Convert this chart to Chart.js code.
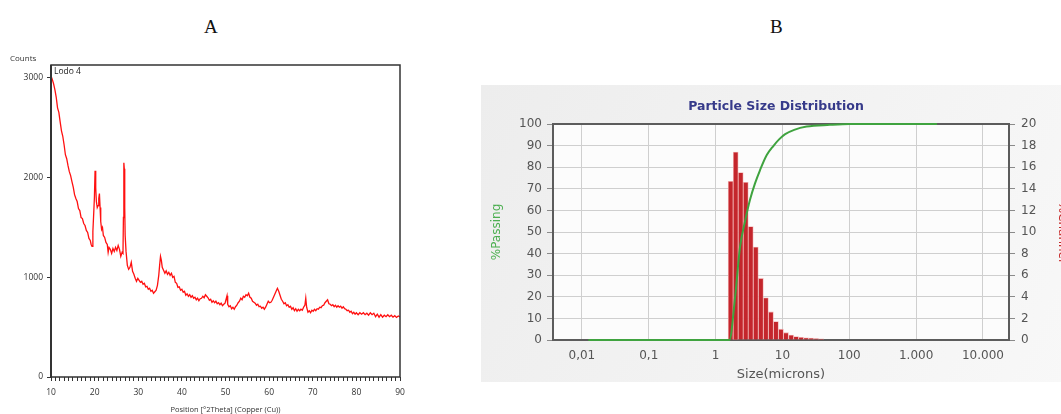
<!DOCTYPE html>
<html>
<head>
<meta charset="utf-8">
<script src="https://cdn.jsdelivr.net/npm/chart.js@4.4.1/dist/chart.umd.min.js"></script>
<style>
body{margin:0;width:1061px;height:414px;overflow:hidden;background:#fff;position:relative}
.lbl{position:absolute;font-family:"Liberation Serif","Times New Roman",serif;font-size:19px;color:#111;line-height:22px}
#wrapA{position:absolute;left:0;top:40px;width:470px;height:374px}
#wrapB{position:absolute;left:481px;top:85px;width:590px;height:297px}
</style>
</head>
<body>
<div class="lbl" style="left:204px;top:16px">A</div>
<div class="lbl" style="left:770px;top:16px">B</div>
<div id="wrapA"><canvas id="chartA"></canvas></div>
<div id="wrapB"><canvas id="chartB"></canvas></div>
<script>
// A: XRD scan, [2theta, counts]
const xrdScan = [
  [10.0,3020],[10.3,2985],[10.6,2940],[10.9,2880],[11.2,2805],[11.5,2700],[11.8,2655],[12.1,2560],[12.4,2470],[12.7,2415],
  [13.0,2330],[13.3,2230],[13.6,2190],[13.9,2120],[14.2,2060],[14.5,2020],[14.8,1960],[15.1,1905],[15.4,1830],[15.7,1790],
  [16.0,1760],[16.3,1690],[16.6,1670],[16.9,1600],[17.2,1590],[17.5,1540],[17.8,1520],[18.1,1470],[18.4,1450],[18.7,1390],
  [19.0,1370],[19.2,1330],[19.4,1310],[19.6,1460],[19.8,1650],[19.95,1800],[20.1,2070],[20.25,1900],[20.4,1760],[20.6,1700],
  [20.8,1720],[20.95,1790],[21.1,1840],[21.25,1700],[21.4,1560],[21.6,1480],[21.8,1500],[22.0,1420],[22.3,1400],[22.6,1350],
  [22.9,1330],[23.1,1250],[23.3,1300],[23.6,1280],[23.9,1240],[24.2,1290],[24.5,1260],[24.8,1300],[25.1,1270],[25.4,1320],
  [25.7,1280],[26.0,1210],[26.3,1250],[26.5,1240],[26.6,1600],[26.7,2150],[26.8,2090],[26.9,1700],[27.0,1420],[27.2,1260],
  [27.5,1120],[27.8,1080],[28.1,1100],[28.4,1150],[28.7,1060],[29.0,1030],[29.3,990],[29.6,960],[29.9,990],[30.2,970],
  [30.5,950],[30.8,960],[31.1,930],[31.4,940],[31.7,905],[32.0,910],[32.3,880],[32.6,890],[32.9,860],[33.2,870],
  [33.5,840],[33.8,855],[34.1,870],[34.4,920],[34.7,1020],[34.9,1120],[35.1,1210],[35.3,1170],[35.5,1100],[35.8,1070],
  [36.1,1040],[36.4,1065],[36.7,1030],[37.0,1050],[37.3,1020],[37.6,1040],[37.9,1000],[38.2,1010],[38.5,950],[38.8,940],
  [39.1,900],[39.4,905],[39.7,870],[40.0,880],[40.3,850],[40.6,860],[40.9,820],[41.2,835],[41.5,810],[41.8,825],
  [42.1,800],[42.4,815],[42.7,790],[43.0,800],[43.3,775],[43.6,790],[43.9,765],[44.2,785],[44.5,790],[44.8,810],
  [45.1,795],[45.4,825],[45.7,810],[46.0,795],[46.3,770],[46.6,780],[46.9,750],[47.2,765],[47.5,745],[47.8,760],
  [48.1,735],[48.4,745],[48.7,725],[49.0,740],[49.3,715],[49.6,730],[49.9,740],[50.2,790],[50.35,815],[50.5,730],
  [50.8,705],[51.1,715],[51.4,685],[51.7,700],[52.0,680],[52.3,705],[52.6,720],[52.9,745],[53.2,760],[53.5,790],
  [53.8,775],[54.1,810],[54.4,800],[54.7,825],[55.0,815],[55.3,840],[55.6,800],[55.9,790],[56.2,760],[56.5,750],
  [56.8,740],[57.1,720],[57.4,730],[57.7,705],[58.0,710],[58.3,690],[58.6,700],[58.9,680],[59.2,700],[59.5,730],
  [59.8,760],[60.1,745],[60.4,750],[60.7,770],[61.0,800],[61.3,830],[61.6,860],[61.9,890],[62.2,860],[62.5,820],
  [62.8,780],[63.1,760],[63.4,735],[63.7,745],[64.0,715],[64.3,725],[64.6,700],[64.9,710],[65.2,680],[65.5,695],
  [65.8,665],[66.1,685],[66.4,660],[66.7,680],[67.0,665],[67.3,680],[67.6,670],[67.9,700],[68.2,720],[68.4,790],
  [68.6,700],[68.9,650],[69.2,665],[69.5,645],[69.8,670],[70.1,660],[70.4,680],[70.7,665],[71.0,685],[71.3,680],
  [71.6,700],[71.9,695],[72.2,715],[72.5,720],[72.8,745],[73.1,760],[73.4,775],[73.7,735],[74.0,730],[74.3,715],
  [74.6,725],[74.9,705],[75.2,720],[75.5,700],[75.8,715],[76.1,700],[76.4,710],[76.7,690],[77.0,705],[77.3,685],
  [77.6,680],[77.9,665],[78.2,670],[78.5,650],[78.8,660],[79.1,635],[79.4,650],[79.7,630],[80.0,645],[80.4,625],
  [80.8,645],[81.2,630],[81.6,645],[82.0,625],[82.4,640],[82.8,620],[83.2,645],[83.6,625],[84.0,640],[84.4,605],
  [84.8,630],[85.2,600],[85.6,625],[86.0,600],[86.4,620],[86.8,605],[87.2,625],[87.6,605],[88.0,620],[88.4,600],
  [88.8,615],[89.2,598],[89.6,612],[90.0,603]
];
const countTicks = [0, 1000, 2000, 3000];

// B: particle size distribution
const binSize = [1.68, 2.0, 2.38, 2.83, 3.36, 4.0, 4.76, 5.66, 6.73, 8.0, 9.51, 11.3, 13.5, 16.0, 19.0, 22.6, 26.9, 32.0, 38.1];
const channelPct = [14.7, 17.4, 15.5, 14.6, 10.5, 8.6, 5.7, 3.9, 2.6, 1.7, 1.0, 0.68, 0.46, 0.32, 0.25, 0.2, 0.17, 0.14, 0.1];
const passSize = [0.0125, 1.61, 1.96, 2.32, 2.76, 3.28, 3.89, 4.63, 5.83, 7.31, 8.99, 11, 15, 23, 51, 102, 2050];
const passPct = [0, 0, 20, 43, 55, 65, 72.5, 78.7, 85.6, 89.8, 93.0, 95.3, 97.3, 98.8, 99.6, 100, 100];
const sizeTicks = [0.01, 0.1, 1, 10, 100, 1000, 10000];
const sizeTickLabels = ['0,01', '0,1', '1', '10', '100', '1.000', '10.000'];

let fontA = {family: '"Open Sans", "DejaVu Sans", sans-serif', size: 8.5};
let fontB = {family: '"DejaVu Sans", Verdana, sans-serif', size: 12};

let frameA = {
  id: 'frameA',
  afterDraw(chart) {
    let c = chart.ctx, a = chart.chartArea;
    c.save();
    c.strokeStyle = '#333';
    c.lineWidth = 1.5;
    c.strokeRect(a.left, a.top, a.right - a.left, a.bottom - a.top);
    c.lineWidth = 2;
    c.beginPath();
    c.moveTo(a.left, a.top);
    c.lineTo(a.left, a.bottom);
    c.stroke();
    c.fillStyle = '#222';
    c.font = '8.5px "Open Sans", sans-serif';
    c.textBaseline = 'middle';
    c.fillText('Lodo 4', a.left + 3, a.top + 7);
    c.restore();
  }
};

let chartA = new Chart(document.getElementById('chartA'), {
  type: 'line',
  data: {
    datasets: [{
      data: xrdScan.map(p => ({x: p[0], y: p[1]})),
      borderColor: '#ff1010',
      borderWidth: 1.3,
      pointRadius: 0,
      tension: 0
    }]
  },
  options: {
    responsive: true,
    maintainAspectRatio: false,
    animation: false,
    layout: {padding: {left: 10, right: 70, top: 0, bottom: 0}},
    plugins: {
      legend: {display: false},
      tooltip: {enabled: false},
      title: {
        display: true, text: 'Counts', align: 'start', color: '#333',
        font: {family: fontA.family, size: 8, weight: 'normal'}, padding: {top: 14.2, bottom: 1.2}
      }
    },
    scales: {
      x: {
        type: 'linear', min: 10, max: 90,
        border: {display: false},
        grid: {drawOnChartArea: false, tickLength: 4, tickColor: '#333'},
        ticks: {
          stepSize: 1, autoSkip: false, maxRotation: 0, padding: 6,
          color: '#333', font: fontA,
          callback: v => (v % 10 === 0 ? String(v) : '')
        },
        title: {
          display: true, text: 'Position [°2Theta] (Copper (Cu))',
          color: '#333', font: {family: fontA.family, size: 7.5}, padding: {top: 0, bottom: 0}
        },
        afterFit: s => { s.height = 37; }
      },
      y: {
        min: 0, max: 3130,
        border: {display: false},
        grid: {drawOnChartArea: false, tickLength: 4, tickColor: '#333'},
        ticks: {color: '#333', font: fontA, padding: 4, callback: v => String(v)},
        afterBuildTicks: s => { s.ticks = countTicks.map(v => ({value: v})); },
        afterFit: s => { s.width = 41; }
      }
    }
  },
  plugins: [frameA]
});

let frameB = {
  id: 'frameB',
  beforeDraw(chart) {
    let c = chart.ctx, a = chart.chartArea;
    let g = c.createLinearGradient(0, 0, chart.width, chart.height);
    g.addColorStop(0, '#ededed');
    g.addColorStop(1, '#f8f8f8');
    c.save();
    c.fillStyle = g;
    c.fillRect(0, 0, chart.width, chart.height);
    c.fillStyle = '#fcfcfc';
    c.fillRect(a.left, a.top, a.right - a.left, a.bottom - a.top);
    c.restore();
  },
  beforeDatasetsDraw(chart) {
    let c = chart.ctx, a = chart.chartArea;
    c.save();
    c.strokeStyle = '#5c5c5c';
    c.lineWidth = 2;
    c.strokeRect(a.left, a.top, a.right - a.left, a.bottom - a.top);
    c.restore();
  }
};

let chartB = new Chart(document.getElementById('chartB'), {
  type: 'bar',
  data: {
    datasets: [{
      type: 'line',
      data: passSize.map((s, i) => ({x: s, y: passPct[i]})),
      yAxisID: 'y',
      borderColor: '#3fa33f',
      borderWidth: 2,
      pointRadius: 0,
      cubicInterpolationMode: 'monotone',
      clip: false,
      order: 0
    }, {
      type: 'bar',
      data: binSize.map((s, i) => ({x: s, y: channelPct[i]})),
      yAxisID: 'y1',
      backgroundColor: '#c4262c',
      borderColor: 'rgba(240,170,170,0.9)',
      borderWidth: 0.8,
      barPercentage: 1,
      categoryPercentage: 1,
      order: 1
    }]
  },
  options: {
    responsive: true,
    maintainAspectRatio: false,
    animation: false,
    layout: {padding: 0},
    plugins: {
      legend: {display: false},
      tooltip: {enabled: false},
      title: {
        display: true, text: 'Particle Size Distribution', color: '#363a8a',
        font: {family: fontB.family, size: 12.5, weight: 'bold'},
        padding: {top: 14, bottom: 10}
      }
    },
    scales: {
      x: {
        type: 'logarithmic', min: 0.0037, max: 24500,
        offset: false,
        border: {display: false},
        grid: {color: '#cfcfcf', offset: false, drawTicks: false},
        ticks: {
          color: '#555', font: fontB, padding: 9, autoSkip: false, maxRotation: 0,
          callback: (v, i) => sizeTickLabels[i]
        },
        afterBuildTicks: s => { s.ticks = sizeTicks.map(v => ({value: v})); },
        title: {display: true, text: 'Size(microns)', color: '#555', font: {family: fontB.family, size: 13}, padding: {top: 0, bottom: 0}},
        afterFit: s => { s.height = 42; }
      },
      y: {
        position: 'left', min: 0, max: 100,
        border: {display: false},
        grid: {color: '#cfcfcf', tickLength: 6, tickColor: '#8a8a8a'},
        ticks: {stepSize: 10, color: '#555', font: fontB, padding: 5},
        title: {display: true, text: '%Passing', color: '#4caf50', font: fontB, padding: {top: 8.8, bottom: 0}},
        afterFit: s => { s.width = 72; }
      },
      y1: {
        position: 'right', min: 0, max: 20,
        border: {display: false},
        grid: {drawOnChartArea: false, tickLength: 6, tickColor: '#8a8a8a'},
        ticks: {stepSize: 2, color: '#555', font: fontB, padding: 6},
        title: {display: true, text: '%Channel', color: '#c62828', font: fontB, padding: {top: 1.8, bottom: 0}},
        afterFit: s => { s.width = 62; }
      }
    }
  },
  plugins: [frameB]
});
</script>
</body>
</html>
